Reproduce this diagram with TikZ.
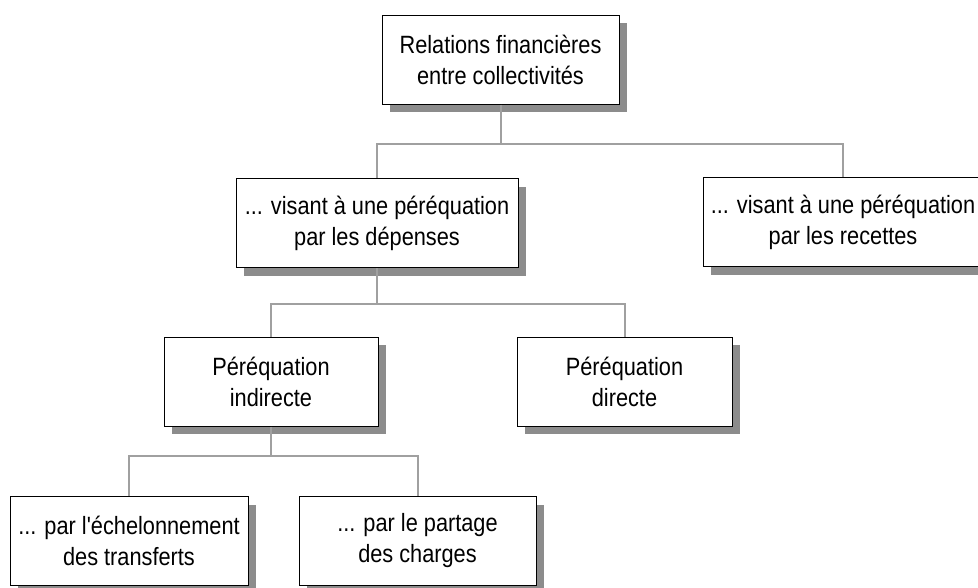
\documentclass[tikz,border=0pt]{standalone}
\usepackage{fontspec}
\setmainfont{Liberation Sans}[FakeStretch=0.87,Ligatures=TeXOff]
\usetikzlibrary{positioning,shadows}

\begin{document}
\begin{tikzpicture}[x=1pt,y=1pt,
	box/.style={rectangle,draw,line width=1pt,fill=white,align=center,inner sep=0pt,
		minimum height=89pt,font=\fontsize{25}{31}\selectfont,
		drop shadow={shadow xshift=8pt,shadow yshift=-8pt,opacity=1,fill=shadowgray}},
	link/.style={line width=2pt,draw=linkgray}
	]
\definecolor{shadowgray}{RGB}{140,140,140}
\definecolor{linkgray}{RGB}{160,160,160}
\useasboundingbox (0,0) rectangle (978,-587);

\node[box,minimum width=237pt](root) at (500.5,-59.5) {Relations financières\\entre collectivités};

\node[box,minimum width=282pt](dep) at (377,-223) {... visant à une péréquation\\par les dépenses};
\node[box,minimum width=280pt](rec) at (843,-222) {... visant à une péréquation\\par les recettes};

\node[box,minimum width=214pt](ind) at (271,-381.5) {Péréquation\\indirecte};
\node[box,minimum width=215pt](dir)[right = 138pt of ind] {Péréquation\\directe};

\node[box,minimum width=238pt](ech) at (129,-541) {... par l'échelonnement\\des transferts};
\node[box,minimum width=237pt](par)[right = 50pt of ech] {... par le partage\\des charges};

\coordinate (j1) at (root.south |- 0,-144);
\coordinate (j2) at (dep.south |- 0,-304);
\coordinate (j3) at (ind.south |- 0,-456);

\draw[link](root.south) -- (j1) -| (dep.north);
\draw[link](j1) -| (rec.north);
\draw[link](dep.south) -- (j2) -| (ind.north);
\draw[link](j2) -| (dir.north);
\draw[link](ind.south) -- (j3) -| (ech.north);
\draw[link](j3) -| (par.north);
\end{tikzpicture}
\end{document}
